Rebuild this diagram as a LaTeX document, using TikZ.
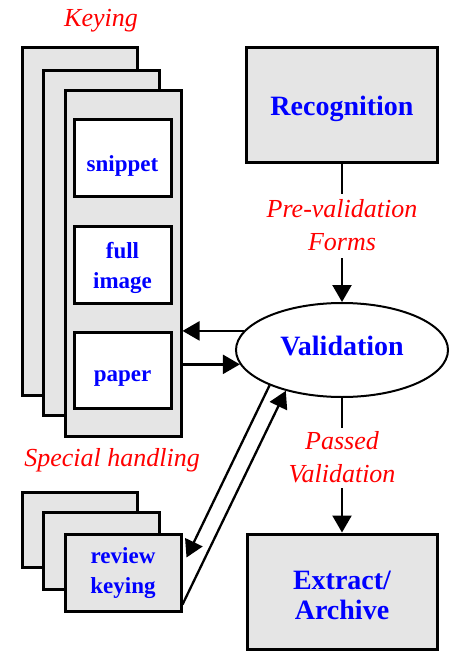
\documentclass[tikz,border=0pt]{standalone}
\usepackage{fontspec}
\setmainfont{Liberation Serif}
\usetikzlibrary{shapes.geometric,arrows.meta}
\definecolor{myblue}{RGB}{0,0,255}
\definecolor{myred}{RGB}{255,0,0}
\definecolor{boxgray}{RGB}{229,229,229}
\newcommand\smallblue{\fontsize{23}{30}\selectfont\bfseries}
\newcommand\bigblue{\fontsize{28}{29.5}\selectfont\bfseries}
\newcommand\redlbl{\fontsize{26}{32.5}\selectfont\itshape}
\tikzset{
  card/.style={draw, line width=3pt, fill=boxgray, inner sep=0pt},
  inbox/.style={draw, line width=3pt, fill=white, inner sep=0pt,
    minimum width=97pt, minimum height=77pt, font=\smallblue, text=myblue, align=center},
  bigbox/.style={draw, line width=3pt, fill=boxgray, inner sep=0pt,
    font=\bigblue, text=myblue, align=center},
  lbl/.style={text=myred, font=\redlbl, inner sep=0pt, align=center},
  conn/.style={line width=2.3pt},
  arr/.style={conn, -{Triangle[length=17pt,width=19pt]}},
}
\begin{document}
\begin{tikzpicture}[x=1pt,y=-1pt]
\useasboundingbox (0,0) rectangle (458,652);
% Keying stack
\node[card, minimum width=115pt, minimum height=347pt] (c1) at (79.5,221.5) {};
\node[card, minimum width=116pt, minimum height=344pt] (c2) at (101,243) {};
\node[card, minimum width=116pt, minimum height=345pt] (c3) at (123,263.5) {};
\node[inbox, text height=26.4pt, text depth=0pt] (snip) at (122.5,158.5) {snippet};
\node[inbox, text height=47pt, text depth=0pt] (full) at (122.5,264.5) {full\\image};
\node[inbox, minimum height=76pt, text height=23.4pt, text depth=0pt] (paper) at (122.5,370) {paper};
\node[lbl, anchor=base] (keying) at (101,26.5) {Keying};
% Special handling stack
\node[card, minimum width=115pt, minimum height=75pt] (b1) at (79.5,529.5) {};
\node[card, minimum width=116pt, minimum height=77pt] (b2) at (101,550.5) {};
\node[card, minimum width=116pt, minimum height=77pt, font=\smallblue, text=myblue, align=center,
      text height=41.6pt, text depth=0pt] (rev) at (123,572.5) {review\\keying};
\node[lbl, anchor=base] (special) at (112,466) {Special handling};
% Right column
\node[bigbox, minimum width=191pt, minimum height=115pt, text height=21pt, text depth=0pt] (rec) at (342,105.5) {Recognition};
\node[ellipse, draw, line width=2pt, fill=white, minimum width=212pt, minimum height=94pt, inner sep=0pt,
      font=\bigblue, text=myblue, text height=10.6pt, text depth=0pt] (val) at (342,350) {Validation};
\node[bigbox, minimum width=190pt, minimum height=115pt, text height=55.6pt, text depth=0pt] (ext) at (342,591.5) {Extract/\\Archive};
\node[lbl, text height=56pt, text depth=8pt] (pre) at (342,226) {Pre-validation\\Forms};
\node[lbl, text height=54pt, text depth=6pt] (pass) at (342,458) {Passed\\Validation};
% connectors
\draw[conn] (rec.south) -- (pre.north);
\draw[arr] (pre.south) -- (val.north);
\draw[conn] (val.south) -- (pass.north);
\draw[arr] (pass.south) -- (ext.north);
\draw[arr] (val.169) -- (val.169 -| c3.east);
\draw[arr] (val.188 -| c3.east) -- (val.188);
\draw[arr] (val.206) -- ([xshift=4pt,yshift=15pt]rev.east);
\draw[arr] ([yshift=8pt]rev.south east) -- (val.216);
\end{tikzpicture}
\end{document}
